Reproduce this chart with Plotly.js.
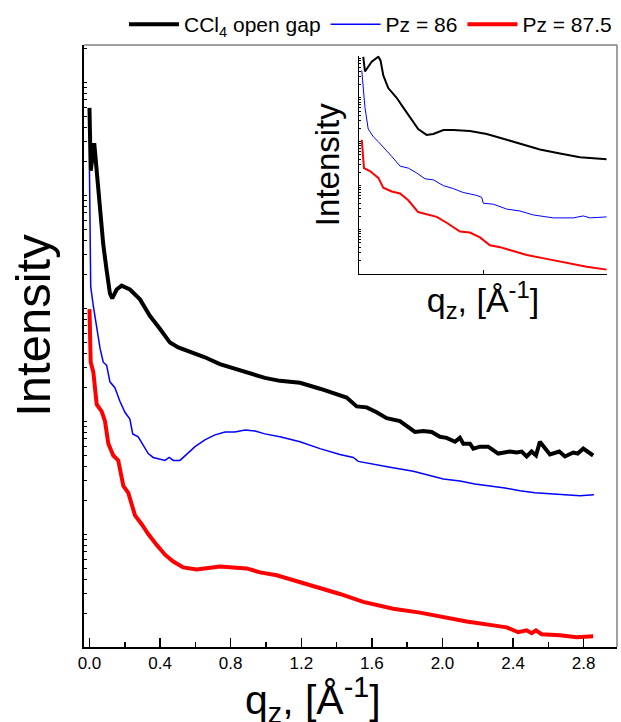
<!DOCTYPE html>
<html>
<head>
<meta charset="utf-8">
<script src="https://cdn.plot.ly/plotly-3.0.1.min.js"></script>
<style>html,body{margin:0;padding:0;background:#fff;}#chart{width:621px;height:722px;}</style>
</head>
<body>
<div id="chart"></div>
<script>
// ---- Main panel data (q_z in 1/Å, intensity in arbitrary units) ----
const qBlack = [0.0,0.007,0.027,0.041,0.06,0.078,0.097,0.116,0.129,0.154,
  0.182,0.229,0.286,0.343,0.399,0.456,0.503,0.569,0.654,0.739,
  0.824,0.909,0.994,1.079,1.193,1.306,1.457,1.514,1.571,1.627,
  1.684,1.759,1.844,1.891,1.939,1.986,2.024,2.071,2.099,2.118,
  2.156,2.175,2.212,2.259,2.316,2.382,2.420,2.449,2.477,2.505,
  2.530,2.552,2.609,2.662,2.694,2.741,2.766,2.798,2.854];
const iBlack = [549,485,513,484,437,410,384,360,355,364,
  368,364,354,337,324,310,305,301,295,288,
  283,278,274,271,269,263,254,245,244,239,
  233,230,219,220,219,214,213,209,213,207,
  207,202,204,204,197,199,198,199,194,199,
  195,209,196,199,194,198,197,202,195];

const qBlue = [0.0,0.007,0.022,0.041,0.06,0.078,0.097,0.116,0.144,0.173,
  0.201,0.229,0.245,0.276,0.305,0.333,0.361,0.399,0.428,0.452,
  0.475,0.513,0.552,0.598,0.654,0.711,0.768,0.824,0.881,0.938,
  0.994,1.079,1.193,1.306,1.419,1.476,1.495,1.523,1.608,1.703,
  1.835,1.929,2.005,2.099,2.184,2.269,2.354,2.439,2.524,2.609,
  2.694,2.779,2.858];
const iBlue = [485,367,347,327,304,290,287,270,264,250,
  239,232,217,214,205,197,193,191,190,193,
  190,190,196,204,211,216,219,219,221,220,
  217,214,209,202,196,194,193,189,186,183,
  179,175,171,169,166,164,162,159,157,156,
  155,154,155];

const qRed = [0.0,0.007,0.022,0.041,0.069,0.088,0.107,0.135,0.163,0.192,
  0.220,0.239,0.258,0.296,0.333,0.381,0.428,0.475,0.531,0.607,
  0.739,0.891,0.966,1.061,1.174,1.287,1.419,1.551,1.721,1.873,
  2.005,2.137,2.288,2.364,2.429,2.477,2.505,2.530,2.562,2.666,
  2.760,2.817,2.854];
const iRed = [344,290,280,247,240,230,207,195,190,164,
  157,147,134,125,115,104,94,87,81,79,
  82,80,76,73,67,62,54,46,39,35,
  30,26,22,20,15,17,14,17,13,12,
  10,10,11];

// ---- Inset data ----
const qInBlack = [0.016,0.023,0.050,0.077,0.086,0.097,0.117,0.151,0.178,0.205,0.238,0.272,0.299,0.340,0.380,0.447,0.515,0.596,0.677,0.730,0.811,0.892,1.0];
const iInBlack = [222,207,217,222,218,203,190,180,170,160,148,142,143,147,147,146,143,137,131,127,123,119,117];
const qInBlue = [0.010,0.023,0.036,0.057,0.077,0.104,0.131,0.165,0.198,0.232,0.266,0.299,0.340,0.380,0.420,0.475,0.495,0.501,0.542,0.596,0.650,0.703,0.784,0.865,0.905,0.933,1.0];
const iInBlue = [208,170,148,140,135,128,120,110,108,103,97,96,90,87,83,80,78,72,71,66,64,60,57,57,59,57,58];
const qInRed = [0.010,0.019,0.043,0.077,0.097,0.131,0.165,0.198,0.238,0.279,0.313,0.353,0.407,0.447,0.488,0.528,0.569,0.622,0.677,0.757,0.838,0.919,1.0];
const iInRed = [137,108,105,98,88,84,82,75,63,60,58,52,43,42,37,29,27,23,19,15,11,7,4];

const seriesNames = ['CCl<sub>4</sub> open gap', 'Pz = 86', 'Pz = 87.5'];
const xTitle = 'q<sub>z</sub>, [Å<sup>-1</sup>]';
const yTitle = 'Intensity';

// log-style minor tick positions for the unlabeled intensity axes (style only)
function logTicks(maxV, decade) {
  const out = [];
  for (let d = 0; d * decade <= maxV; d++) {
    for (let k = 1; k <= 9; k++) {
      const v = decade * (d + Math.log10(k));
      if (v <= maxV) out.push(v);
    }
  }
  return out;
}

const FONT = 'Liberation Sans, Arial, sans-serif';

const traces = [
  {x: qBlack, y: iBlack, name: seriesNames[0], mode: 'lines', line: {color: '#000000', width: 4}},
  {x: qBlue, y: iBlue, name: seriesNames[1], mode: 'lines', line: {color: '#0000ff', width: 1.5}},
  {x: qRed, y: iRed, name: seriesNames[2], mode: 'lines', line: {color: '#ff0000', width: 4}},
  {x: qInBlack, y: iInBlack, xaxis: 'x2', yaxis: 'y2', showlegend: false, mode: 'lines', line: {color: '#000000', width: 2}},
  {x: qInBlue, y: iInBlue, xaxis: 'x2', yaxis: 'y2', showlegend: false, mode: 'lines', line: {color: '#0000ff', width: 1}},
  {x: qInRed, y: iInRed, xaxis: 'x2', yaxis: 'y2', showlegend: false, mode: 'lines', line: {color: '#ff0000', width: 2}}
];

const layout = {
  width: 621, height: 722,
  margin: {l: 84, r: 4, t: 34, b: 75},
  paper_bgcolor: '#ffffff', plot_bgcolor: '#ffffff',
  font: {family: FONT, color: '#000000'},
  showlegend: true,
  legend: {
    orientation: 'h', x: 1.0, xanchor: 'right', y: 1.0, yanchor: 'bottom',
    font: {size: 21, family: FONT}, bgcolor: 'rgba(0,0,0,0)',
    itemwidth: 50, tracegroupgap: 0
  },
  xaxis: {
    domain: [0, 1], range: [-0.031, 2.989],
    tick0: 0, dtick: 0.4, tickformat: '.1f',
    ticks: 'inside', ticklen: 9, tickwidth: 1.5, tickcolor: '#000',
    minor: {dtick: 0.2, ticks: 'inside', ticklen: 5, tickwidth: 1.5, tickcolor: '#000', showgrid: false},
    showline: true, linewidth: 2, linecolor: '#000',
    showgrid: false, zeroline: false,
    tickfont: {size: 17, family: FONT},
    title: {text: ''}
  },
  yaxis: {
    domain: [0, 1], range: [0, 613],
    tickmode: 'array', tickvals: logTicks(613, 115),
    showticklabels: false,
    ticks: 'inside', ticklen: 3, tickwidth: 1, tickcolor: '#000',
    showline: true, linewidth: 2, linecolor: '#000',
    showgrid: false, zeroline: false,
    title: {text: ''}
  },
  xaxis2: {
    domain: [0.5165, 0.9807], anchor: 'y2', range: [0, 1],
    tick0: 0, dtick: 0.5, showticklabels: false,
    ticks: 'inside', ticklen: 4, tickwidth: 1, tickcolor: '#000',
    showline: true, linewidth: 1.5, linecolor: '#000',
    showgrid: false, zeroline: false,
    title: {text: xTitle, font: {size: 34, family: FONT}, standoff: 14}
  },
  yaxis2: {
    domain: [0.6204, 0.982], anchor: 'x2', range: [0, 223],
    tickmode: 'array', tickvals: logTicks(223, 45),
    showticklabels: false,
    ticks: 'inside', ticklen: 2, tickwidth: 1, tickcolor: '#000',
    showline: true, linewidth: 1.5, linecolor: '#000',
    showgrid: false, zeroline: false,
    title: {text: yTitle, font: {size: 33, family: FONT}, standoff: 8}
  },
  annotations: [
    {text: xTitle, xref: 'paper', yref: 'paper', x: 0.43, y: -0.140, xanchor: 'center', yanchor: 'bottom',
     showarrow: false, font: {size: 41, family: FONT, color: '#000'}},
    {text: yTitle, xref: 'paper', yref: 'paper', x: -0.096, y: 0.535, xanchor: 'center', yanchor: 'middle',
     textangle: -90, showarrow: false, font: {size: 49, family: FONT, color: '#000'}}
  ],
  shapes: [
    {type: 'line', xref: 'paper', yref: 'paper', x0: 0, x1: 1, y0: 1, y1: 1, line: {color: '#808080', width: 1.5}},
    {type: 'line', xref: 'paper', yref: 'paper', x0: 1, x1: 1, y0: 0, y1: 1, line: {color: '#808080', width: 1.5}}
  ]
};

Plotly.newPlot('chart', traces, layout, {displayModeBar: false, staticPlot: true});
</script>
</body>
</html>
